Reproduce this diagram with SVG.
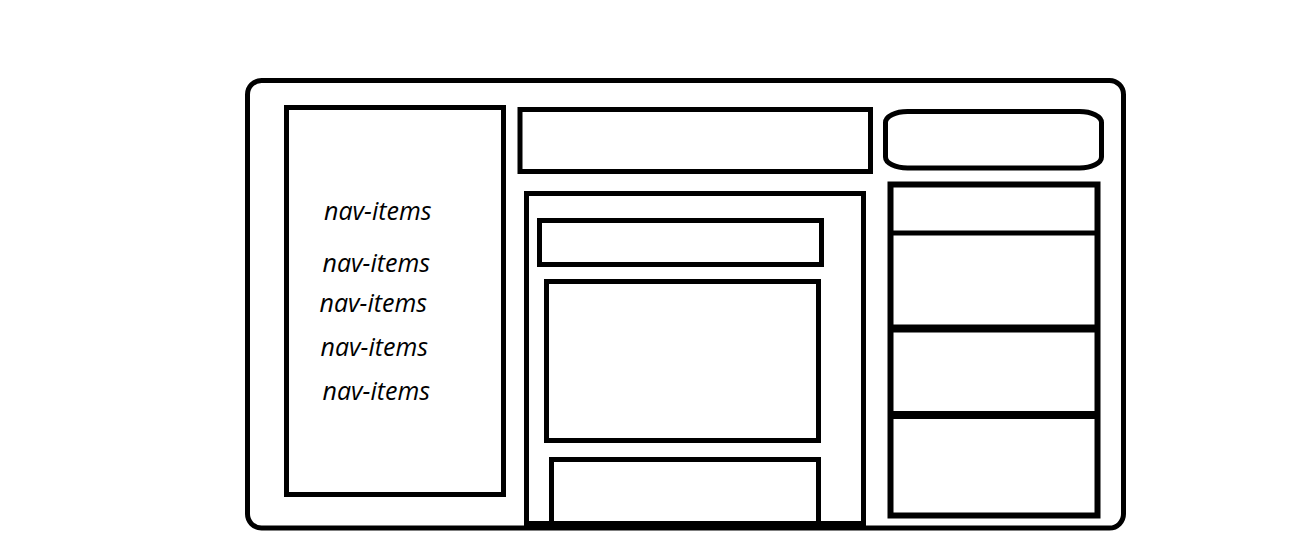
<svg xmlns="http://www.w3.org/2000/svg" width="1293" height="557" viewBox="0 0 1293 557">
<style>
.b{fill:none;stroke:#000;stroke-width:5}
.t{font-family:"Open Sans","Noto Sans",sans-serif;font-style:italic;font-size:25px;fill:#000}
</style>
<rect width="1293" height="557" fill="#fff"/>
<g id="frame"><rect class="b" x="247.5" y="80.5" width="876" height="447.5" rx="14" ry="14"/></g>
<g id="nav">
<rect class="b" x="286.5" y="107.5" width="217" height="387"/>
<text class="t" x="324" y="220">nav-items</text>
<text class="t" x="322.5" y="272">nav-items</text>
<text class="t" x="319.5" y="312">nav-items</text>
<text class="t" x="320.5" y="355.5">nav-items</text>
<text class="t" x="322.5" y="399.5">nav-items</text>
</g>
<g id="header"><rect class="b" x="520" y="109.5" width="350.5" height="62"/></g>
<g id="search"><rect class="b" x="885.5" y="111.5" width="216" height="56.5" rx="22" ry="11"/></g>
<g id="main">
<rect class="b" x="526.5" y="193.5" width="337" height="330"/>
<rect class="b" x="539.5" y="220.5" width="282" height="44"/>
<rect class="b" x="546.5" y="281.5" width="272" height="159"/>
<rect class="b" x="551.5" y="459.5" width="267" height="64"/>
</g>
<g id="sidebar">
<rect x="890.5" y="184.5" width="207" height="331" fill="none" stroke="#000" stroke-width="6"/>
<line x1="890" y1="233" x2="1098" y2="233" stroke="#000" stroke-width="5"/>
<line x1="890" y1="328.5" x2="1098" y2="328.5" stroke="#000" stroke-width="8"/>
<line x1="890" y1="415" x2="1098" y2="415" stroke="#000" stroke-width="8"/>
</g>
<g id="connectors"></g>
</svg>
